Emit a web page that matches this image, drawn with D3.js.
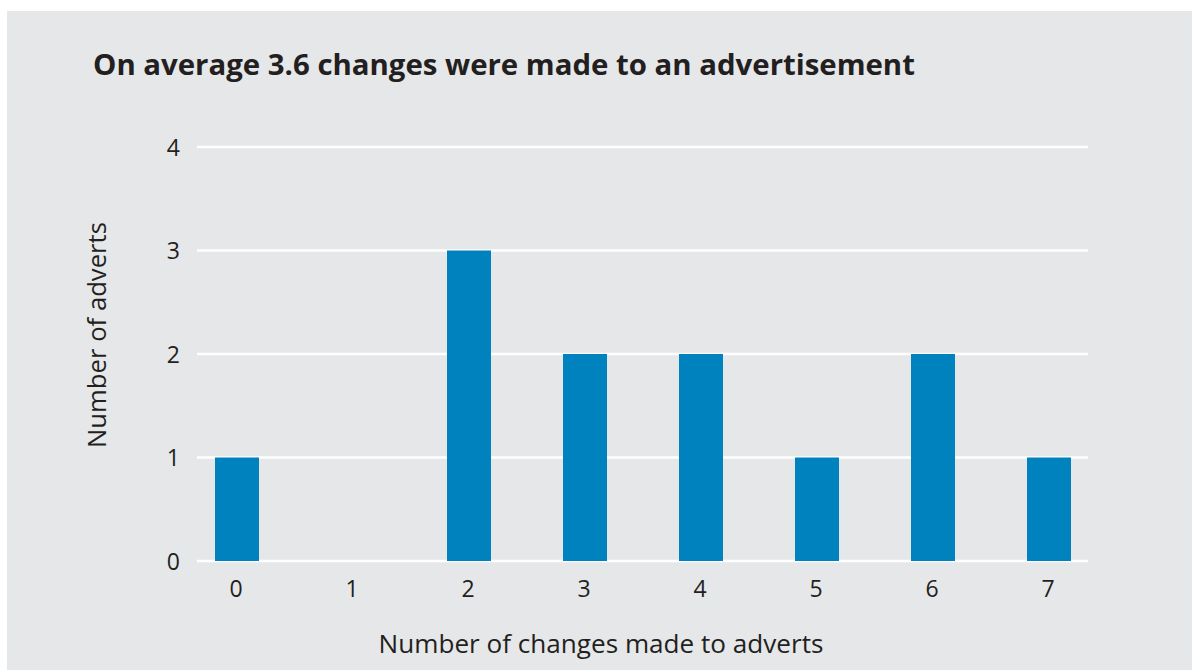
<!DOCTYPE html>
<html>
<head>
<meta charset="utf-8">
<script src="https://cdn.jsdelivr.net/npm/d3@7"></script>
<style>
  html, body { margin: 0; padding: 0; background: #ffffff; }
  svg { display: block; }
  text { font-family: "Open Sans", "Noto Sans", sans-serif; fill: #231f20; }
</style>
</head>
<body>
<svg id="chart" width="1192" height="670"></svg>
<script>
// Number of changes made to each advert (categories) and how many adverts had that many
const changes = ["0", "1", "2", "3", "4", "5", "6", "7"];
const adverts = [1, 0, 3, 2, 2, 1, 2, 1];
const yTicks = [0, 1, 2, 3, 4];

const titleText = "On average 3.6 changes were made to an advertisement";
const xTitle = "Number of changes made to adverts";
const yTitle = "Number of adverts";

const FONT = "'Open Sans', 'Noto Sans', sans-serif";
const INK = "#231f20";

const svg = d3.select("#chart");
const W = 1192, H = 670;

// shrink or grow a text's font size until it spans the given width
function fitWidth(sel, width) {
  const node = sel.node();
  const size = +sel.attr("font-size");
  const w = node.getComputedTextLength();
  if (w > 0) sel.attr("font-size", (size * width / w).toFixed(2));
  return sel;
}

// panel background
svg.append("rect")
  .attr("x", 7).attr("y", 11)
  .attr("width", W - 7).attr("height", H - 11)
  .attr("fill", "#e6e7e9");

const grid = { left: 197, right: 1088 };

const x = d3.scaleBand()
  .domain(changes)
  .range([179, 1107])
  .paddingInner(0.62)
  .paddingOuter(0.31);

const y = d3.scaleLinear()
  .domain([0, 4])
  .range([561, 147]);

// horizontal gridlines
svg.append("g")
  .selectAll("line")
  .data(yTicks)
  .join("line")
  .attr("x1", grid.left).attr("x2", grid.right)
  .attr("y1", d => y(d)).attr("y2", d => y(d))
  .attr("stroke", "#ffffff")
  .attr("stroke-width", 2.5);

// bars
svg.append("g")
  .selectAll("rect")
  .data(changes.map((c, i) => ({ c, v: adverts[i] })))
  .join("rect")
  .attr("x", d => x(d.c) + (x.bandwidth() - 44) / 2)
  .attr("width", 44)
  .attr("y", d => y(d.v))
  .attr("height", d => y(0) - y(d.v))
  .attr("fill", "#0082bf");

// y axis
const yAxis = svg.append("g")
  .attr("transform", `translate(${grid.left},0)`)
  .call(d3.axisLeft(y).tickValues(yTicks).tickFormat(d3.format("d")).tickSize(0).tickPadding(17));
yAxis.select(".domain").remove();
yAxis.selectAll("text")
  .attr("font-size", 23)
  .attr("font-family", FONT)
  .attr("fill", INK)
  .attr("dy", "0.36em");

// x axis
const xAxis = svg.append("g")
  .attr("transform", `translate(-1,${y(0)})`)
  .call(d3.axisBottom(x).tickSize(0).tickPadding(20));
xAxis.select(".domain").remove();
xAxis.selectAll("text")
  .attr("font-size", 23)
  .attr("font-family", FONT)
  .attr("fill", INK);

// title
fitWidth(svg.append("text")
  .attr("x", 93).attr("y", 75)
  .attr("font-size", 28)
  .attr("font-weight", 700)
  .text(titleText), 822);

// axis titles
fitWidth(svg.append("text")
  .attr("x", 601).attr("y", 653)
  .attr("text-anchor", "middle")
  .attr("font-size", 22)
  .text(xTitle), 445);

fitWidth(svg.append("text")
  .attr("transform", "translate(106,335) rotate(-90)")
  .attr("text-anchor", "middle")
  .attr("font-size", 22)
  .text(yTitle), 226);
</script>
</body>
</html>
